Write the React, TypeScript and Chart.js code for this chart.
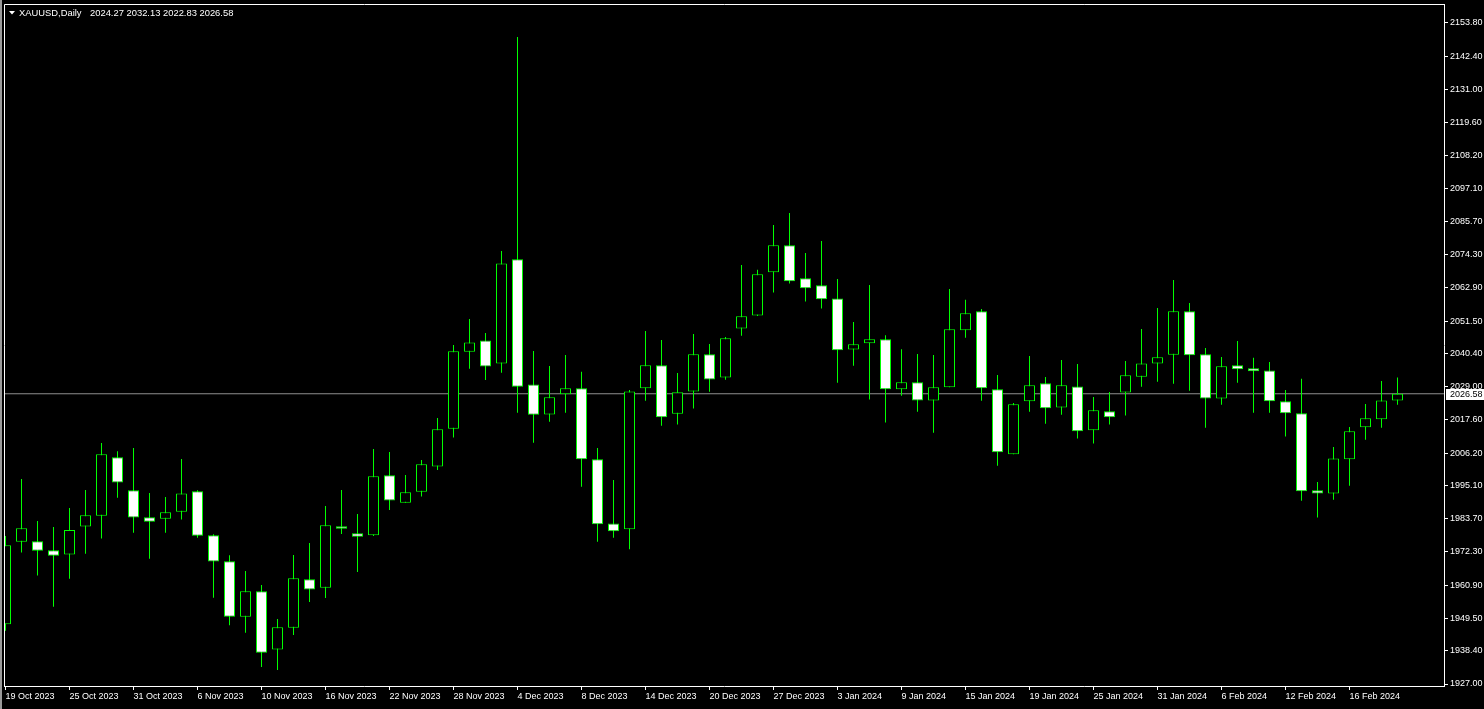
import React, { useEffect, useRef } from "react";
import { Chart, registerables } from "chart.js";

Chart.register(...registerables);

const symbol = "XAUUSD";
const timeframe = "Daily";

const opens = [
  1947.5, 1975.8, 1976.0, 1972.9, 1971.4, 1981.0, 1984.7, 2004.8, 1993.5, 1984.2,
  1983.7, 1986.1, 1993.1, 1978.0, 1969.1, 1950.1, 1958.8, 1938.8, 1946.3, 1962.9,
  1960.0, 1981.1, 1978.7, 1978.0, 1998.6, 1989.2, 1993.0, 2001.6, 2014.6, 2041.0,
  2044.9, 2037.0, 2072.7, 2029.8, 2019.5, 2026.4, 2028.5, 2004.1, 1982.1, 1980.1,
  2028.5, 2036.4, 2019.7, 2027.4, 2040.1, 2032.2, 2049.0, 2053.4, 2068.3, 2077.5,
  2066.2, 2063.8, 2059.3, 2041.8, 2043.9, 2045.3, 2028.1, 2030.5, 2024.3, 2028.8,
  2048.4, 2054.9, 2028.1, 2005.8, 2024.0, 2030.2, 2021.9, 2029.1, 2014.1, 2020.6,
  2027.0, 2032.4, 2037.0, 2040.0, 2054.9, 2040.1, 2025.0, 2036.4, 2035.3, 2034.6,
  2024.0, 2019.9, 1993.5, 1992.4, 2004.1, 2015.1, 2017.8, 2024.27,
];
const highs = [
  1977.8, 1997.3, 1982.9, 1980.9, 1987.4, 1993.6, 2009.7, 2006.9, 2008.0, 1992.5,
  1991.2, 2004.2, 1993.5, 1978.4, 1971.2, 1965.8, 1961.0, 1949.3, 1971.3, 1975.4,
  1988.1, 1993.6, 1985.3, 2007.6, 2006.6, 1998.7, 2003.9, 2018.3, 2043.3, 2052.2,
  2047.4, 2075.6, 2149.0, 2041.3, 2036.1, 2039.9, 2034.1, 2008.0, 1997.0, 2027.9,
  2048.1, 2045.0, 2033.7, 2047.1, 2043.7, 2046.1, 2070.8, 2069.1, 2084.5, 2088.6,
  2074.9, 2079.0, 2066.0, 2051.2, 2063.9, 2046.7, 2041.9, 2040.2, 2039.9, 2062.5,
  2058.8, 2055.7, 2033.0, 2023.4, 2039.5, 2032.3, 2038.2, 2036.8, 2025.5, 2027.2,
  2037.8, 2048.8, 2056.0, 2065.6, 2057.7, 2042.3, 2039.2, 2044.7, 2038.9, 2037.5,
  2027.9, 2031.7, 1996.3, 2008.3, 2015.2, 2023.1, 2031.0, 2032.13,
];
const lows = [
  1945.3, 1972.1, 1964.2, 1953.5, 1963.1, 1971.7, 1976.9, 1990.9, 1978.9, 1970.0,
  1978.9, 1983.4, 1977.2, 1956.6, 1947.2, 1944.6, 1932.8, 1931.8, 1943.8, 1955.1,
  1956.5, 1978.5, 1965.4, 1977.8, 1986.7, 1989.2, 1991.3, 2000.4, 2011.6, 2035.2,
  2031.3, 2033.8, 2020.1, 2009.8, 2017.0, 2020.1, 1994.7, 1975.8, 1977.2, 1973.2,
  2024.2, 2015.6, 2016.0, 2021.5, 2027.3, 2031.4, 2046.5, 2053.3, 2061.3, 2064.4,
  2058.2, 2055.8, 2030.4, 2036.2, 2024.6, 2016.7, 2025.9, 2020.4, 2013.2, 2028.8,
  2045.8, 2024.2, 2001.9, 2005.8, 2020.4, 2016.3, 2019.4, 2011.2, 2009.5, 2016.0,
  2019.1, 2029.0, 2030.7, 2030.0, 2027.6, 2014.9, 2022.8, 2030.4, 2020.1, 2020.1,
  2011.9, 1989.9, 1984.1, 1990.2, 1995.0, 2010.8, 2014.9, 2022.83,
];
const closes = [
  1974.6, 1980.4, 1972.7, 1971.0, 1979.8, 1984.9, 2005.8, 1996.1, 1984.1, 1982.7,
  1985.9, 1992.4, 1977.9, 1969.0, 1950.1, 1958.8, 1937.7, 1946.5, 1963.3, 1959.4,
  1981.5, 1980.3, 1977.5, 1998.3, 1990.0, 1992.8, 2002.4, 2014.4, 2041.2, 2044.2,
  2035.9, 2071.3, 2029.0, 2019.4, 2025.4, 2028.5, 2004.1, 1981.8, 1979.4, 2027.4,
  2036.4, 2018.5, 2027.1, 2040.1, 2031.5, 2045.6, 2053.2, 2067.6, 2077.5, 2065.2,
  2062.8, 2059.0, 2041.5, 2043.6, 2045.3, 2028.1, 2030.5, 2024.3, 2028.8, 2048.7,
  2054.2, 2028.5, 2006.5, 2023.0, 2029.5, 2021.6, 2029.5, 2013.7, 2020.9, 2018.5,
  2032.9, 2037.0, 2039.1, 2054.9, 2039.8, 2025.0, 2036.0, 2035.0, 2034.3, 2024.0,
  2019.9, 1993.1, 1992.4, 2004.4, 2013.7, 2018.2, 2024.3, 2026.58,
];

const xTickBars = [0, 4, 8, 12, 16, 20, 24, 28, 32, 36, 40, 44, 48, 52, 56, 60, 64, 68, 72, 76, 80, 84];
const xTickLabels = [
  "19 Oct 2023", "25 Oct 2023", "31 Oct 2023", "6 Nov 2023", "10 Nov 2023", "16 Nov 2023",
  "22 Nov 2023", "28 Nov 2023", "4 Dec 2023", "8 Dec 2023", "14 Dec 2023", "20 Dec 2023",
  "27 Dec 2023", "3 Jan 2024", "9 Jan 2024", "15 Jan 2024", "19 Jan 2024", "25 Jan 2024",
  "31 Jan 2024", "6 Feb 2024", "12 Feb 2024", "16 Feb 2024",
];
const yTickValues = [
  1927.0, 1938.4, 1949.5, 1960.9, 1972.3, 1983.7, 1995.1, 2006.2, 2017.6, 2029.0, 2040.4,
  2051.5, 2062.9, 2074.3, 2085.7, 2097.1, 2108.2, 2119.6, 2131.0, 2142.4, 2153.8,
];
const bidPrice = 2026.58;

const X_MIN = -0.09375;
const X_MAX = 89.90625;
const Y_MIN = 1926.314;
const Y_MAX = 2160.319;

const FONT = "Liberation Sans";
const GREEN = "#00ff00";

export default function App() {
  const ref = useRef<HTMLCanvasElement | null>(null);

  useEffect(() => {
    document.body.style.margin = "0";
    document.body.style.background = "#000";
    const canvas = ref.current;
    if (!canvas) return;

    const idx = opens.map((_, i) => i);
    const wickData = idx.map((i) => ({ x: i, y: [lows[i], highs[i]] }));
    const bodyData = idx.map((i) => ({ x: i, y: [opens[i], closes[i]] }));
    const bodyFill = idx.map((i) => (closes[i] >= opens[i] ? "#000000" : "#ffffff"));

    const fixPadding = (s: any) => {
      s.paddingTop = 0;
      s.paddingBottom = 0;
      s.paddingLeft = 0;
      s.paddingRight = 0;
    };

    const decor = {
      id: "mt4decor",
      beforeDraw(chart: any) {
        const ctx = chart.ctx;
        ctx.save();
        ctx.fillStyle = "#000";
        ctx.fillRect(0, 0, chart.width, chart.height);
        ctx.fillStyle = "#9a9a9a";
        ctx.fillRect(0, 0, 2, chart.height);
        ctx.restore();
      },
      afterDraw(chart: any) {
        const ctx = chart.ctx;
        const a = chart.chartArea;
        ctx.save();
        ctx.strokeStyle = "#ffffff";
        ctx.lineWidth = 1;
        ctx.beginPath();
        ctx.moveTo(a.left + 0.5, a.bottom);
        ctx.lineTo(a.left + 0.5, a.top + 0.5);
        ctx.lineTo(a.right, a.top + 0.5);
        ctx.stroke();

        // bid price label
        const py = chart.scales.y.getPixelForValue(bidPrice);
        ctx.fillStyle = "#ffffff";
        ctx.fillRect(a.right + 2, Math.round(py) - 5, chart.width - a.right - 2, 11);
        ctx.fillStyle = "#000000";
        ctx.font = `9px "${FONT}"`;
        ctx.textBaseline = "middle";
        ctx.textAlign = "left";
        ctx.fillText(bidPrice.toFixed(2), a.right + 6, Math.round(py) + 0.5);

        // title
        const last = opens.length - 1;
        ctx.fillStyle = "#ffffff";
        ctx.beginPath();
        ctx.moveTo(9, 11);
        ctx.lineTo(15, 11);
        ctx.lineTo(12, 14.5);
        ctx.closePath();
        ctx.fill();
        ctx.font = `9.4px "${FONT}"`;
        ctx.fillText(`${symbol},${timeframe}`, 19, 13);
        ctx.fillText(
          `${opens[last].toFixed(2)} ${highs[last].toFixed(2)} ${lows[last].toFixed(2)} ${closes[last].toFixed(2)}`,
          90,
          13
        );
        ctx.restore();
      },
    };

    const chart = new Chart(canvas, {
      type: "bar",
      data: {
        datasets: [
          {
            type: "line",
            data: [
              { x: X_MIN, y: bidPrice },
              { x: X_MAX, y: bidPrice },
            ],
            borderColor: "#8f8f8f",
            borderWidth: 1,
            pointRadius: 0,
            order: 3,
          } as any,
          {
            type: "bar",
            data: wickData,
            backgroundColor: GREEN,
            borderWidth: 0,
            barThickness: 1,
            inflateAmount: 0,
            stack: "c",
            order: 2,
          } as any,
          {
            type: "bar",
            data: bodyData,
            backgroundColor: bodyFill,
            borderColor: GREEN,
            borderWidth: 1,
            borderSkipped: false,
            barThickness: 11,
            inflateAmount: 0,
            stack: "c",
            order: 1,
          } as any,
        ],
      },
      options: {
        responsive: false,
        animation: false,
        devicePixelRatio: 1,
        layout: { padding: { top: 4, left: 4, right: 0, bottom: 0 } },
        plugins: {
          legend: { display: false },
          tooltip: { enabled: false },
          title: { display: false },
        },
        scales: {
          x: {
            type: "linear",
            min: X_MIN,
            max: X_MAX,
            offset: false,
            afterBuildTicks: (s: any) => {
              s.ticks = xTickBars.map((v) => ({ value: v }));
            },
            afterFit: (s: any) => {
              s.height = 23;
              fixPadding(s);
            },
            ticks: {
              autoSkip: false,
              maxRotation: 0,
              minRotation: 0,
              align: "start",
              padding: 1,
              color: "#ffffff",
              font: { family: FONT, size: 9 },
              callback: (v: any) => {
                const k = xTickBars.indexOf(Number(v));
                return k >= 0 ? xTickLabels[k] : "";
              },
            },
            grid: {
              display: true,
              offset: false,
              drawOnChartArea: false,
              drawTicks: true,
              tickLength: 4,
              color: "#ffffff",
            },
            border: { display: true, color: "#ffffff" },
          },
          y: {
            type: "linear",
            position: "right",
            min: Y_MIN,
            max: Y_MAX,
            stacked: false,
            afterBuildTicks: (s: any) => {
              s.ticks = yTickValues.map((v) => ({ value: v }));
            },
            afterFit: (s: any) => {
              s.width = 40;
              fixPadding(s);
            },
            ticks: {
              autoSkip: false,
              padding: 2,
              color: "#ffffff",
              font: { family: FONT, size: 9 },
              callback: (v: any) => Number(v).toFixed(2),
            },
            grid: {
              display: true,
              drawOnChartArea: false,
              drawTicks: true,
              tickLength: 4,
              color: "#ffffff",
            },
            border: { display: true, color: "#ffffff" },
          },
        },
      },
      plugins: [decor],
    } as any);

    return () => chart.destroy();
  }, []);

  return (
    <div style={{ position: "fixed", left: 0, top: 0, width: 1484, height: 709, background: "#000" }}>
      <canvas ref={ref} width={1484} height={709} style={{ display: "block", width: 1484, height: 709 }} />
    </div>
  );
}
